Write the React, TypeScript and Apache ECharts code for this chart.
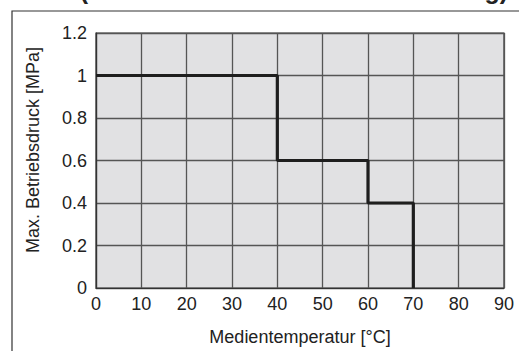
import React, { useEffect, useRef } from "react";
import * as echarts from "echarts";

const xTicks = [0, 10, 20, 30, 40, 50, 60, 70, 80, 90];
const yTicks = [0, 0.2, 0.4, 0.6, 0.8, 1, 1.2];
const temperature = [0, 40, 40, 60, 60, 70, 70];
const pressure = [1, 1, 0.6, 0.6, 0.4, 0.4, 0];
const xName = "Medientemperatur [°C]";
const yName = "Max. Betriebsdruck [MPa]";
const titleText = "(Medium Wasser und Luft Dichtung)";

export default function App() {
  const ref = useRef<HTMLDivElement>(null);
  useEffect(() => {
    if (!ref.current) return;
    const chart = echarts.init(ref.current, undefined, { renderer: "svg" });
    const font = "'Liberation Sans', Arial, sans-serif";
    chart.setOption({
      animation: false,
      textStyle: { fontFamily: font },
      grid: {
        left: 96,
        right: 15,
        top: 33,
        bottom: 62,
        show: true,
        backgroundColor: "#e1e1e3",
        borderColor: "#333",
        borderWidth: 1.2,
      },
      xAxis: {
        type: "value",
        min: xTicks[0],
        max: xTicks[xTicks.length - 1],
        interval: 10,
        name: xName,
        nameLocation: "middle",
        nameGap: 40,
        nameTextStyle: { fontSize: 18, color: "#222", fontFamily: font },
        axisLine: { show: true, lineStyle: { color: "#333", width: 1.2 } },
        axisTick: { show: false },
        axisLabel: { fontSize: 18, color: "#222", margin: 7, fontFamily: font },
        splitLine: { show: true, lineStyle: { color: "#555", width: 1.3 } },
      },
      yAxis: {
        type: "value",
        min: yTicks[0],
        max: yTicks[yTicks.length - 1],
        interval: 0.2,
        axisLine: { show: true, lineStyle: { color: "#333", width: 1.2 } },
        axisTick: { show: false },
        axisLabel: {
          fontSize: 18,
          color: "#222",
          margin: 9,
          fontFamily: font,
          formatter: (v: number) => String(Math.round(v * 10) / 10),
        },
        splitLine: { show: true, lineStyle: { color: "#555", width: 1.3 } },
      },
      series: [
        {
          type: "line",
          data: temperature.map((t, i) => [t, pressure[i]]),
          symbol: "none",
          lineStyle: { color: "#1e1e1e", width: 3.2 },
          z: 5,
        },
      ],
      graphic: [
        {
          type: "rect",
          shape: { x: 12, y: 11, width: 700, height: 500 },
          style: { fill: "none", stroke: "#333", lineWidth: 1.2 },
          silent: true,
        },
        {
          type: "text",
          x: 508,
          y: 2,
          style: {
            text: titleText,
            font: `bold 25px ${font}`,
            fill: "#222",
            textAlign: "right",
            textVerticalAlign: "bottom",
          },
        },
        {
          type: "text",
          x: 33,
          y: 150,
          rotation: Math.PI / 2,
          style: {
            text: yName,
            font: `18px ${font}`,
            fill: "#222",
            textAlign: "center",
            textVerticalAlign: "middle",
          },
        },
      ],
    });
    return () => chart.dispose();
  }, []);
  return (
    <div
      ref={ref}
      style={{ position: "fixed", left: 0, top: 0, width: 519, height: 351, background: "#fff" }}
    />
  );
}
